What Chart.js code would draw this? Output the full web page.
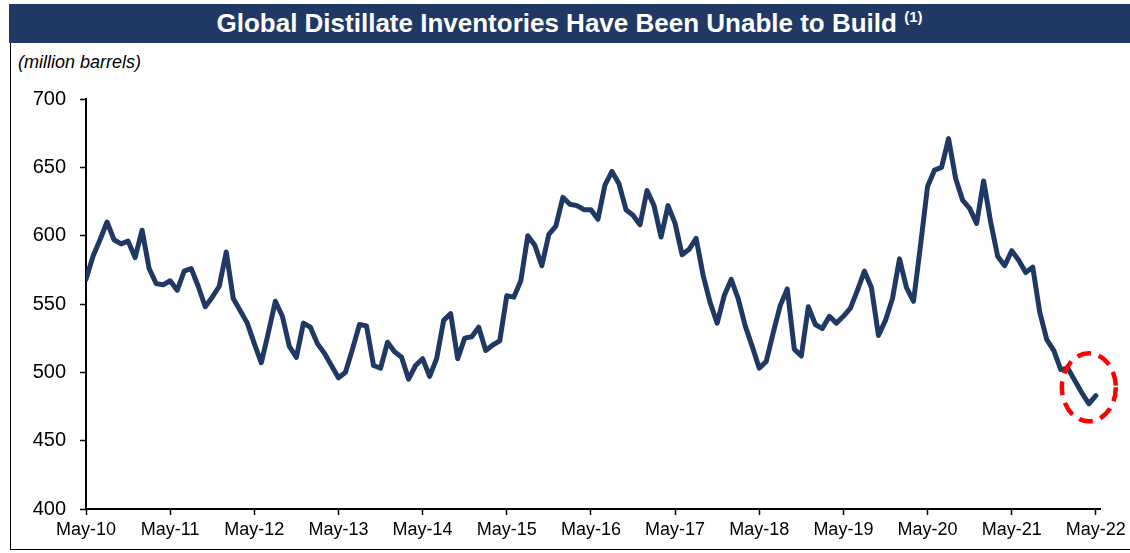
<!DOCTYPE html>
<html lang="en">
<head>
    <meta charset="UTF-8">
    <title>Global Distillate Inventories</title>
    <script src="https://cdn.jsdelivr.net/npm/chart.js"></script>
    <style>
        body { margin: 0; background: #fff; }
        #wrap { position: relative; width: 1130px; height: 553px; font-family: 'Liberation Sans', Arial, sans-serif; }
        #frame { position: absolute; left: 10px; top: 43px; width: 1120px; height: 506px; border-left: 1.5px solid #000; border-bottom: 1.5px solid #000; }
        #titlebar { position: absolute; left: 9px; top: 4px; width: 1121px; height: 39px; background: #1F3864; color: #fff;
                    font-weight: bold; font-size: 26px; text-align: center; line-height: 39px; white-space: nowrap; }
        #titlebar sup { font-size: 15px; vertical-align: baseline; position: relative; top: -10px; }
        #units { position: absolute; left: 18px; top: 52px; font-style: italic; font-size: 18px; color: #000; }
        #box { position: absolute; left: 0; top: 0; width: 1130px; height: 553px; }
    </style>
</head>
<body>
<div id="wrap">
    <div id="frame"></div>
    <div id="titlebar">Global Distillate Inventories Have Been Unable to Build <sup>(1)</sup></div>
    <div id="units">(million barrels)</div>
    <div id="box"><canvas id="chart"></canvas></div>
</div>

<script>
    // monthly values, May-10 .. May-22 (million barrels)
    const inventory = [
        568, 585, 597, 610, 597, 594, 596, 584, 604, 576, 565, 564,
        567, 560, 574, 576, 563, 548, 555, 563, 588, 554, 545, 536,
        521, 507, 529, 552, 541, 519, 511, 536, 533, 521, 514, 505,
        496, 500, 517, 535, 534, 505, 503, 522, 515, 511, 495, 505,
        510, 497, 510, 538, 543, 510, 525, 526, 533, 516, 520, 523,
        556, 555, 567, 600, 593, 578, 601, 607, 628, 623, 622, 619,
        619, 612, 637, 647, 638, 619, 615, 608, 633, 622, 599, 622,
        609, 586, 590, 598, 571, 551, 536, 556, 568, 554, 534, 519,
        503, 508, 529, 549, 561, 517, 512, 548, 535, 532, 541, 536,
        541, 547, 560, 574, 562, 527, 538, 554, 583, 562, 552, 593,
        636, 648, 650, 671, 642, 626, 620, 609, 640, 610, 585, 578,
        589, 582, 573, 577, 544, 524, 516, 502, 503, 494, 485, 477,
        483
    ];
    const yearLabels = ['May-10', 'May-11', 'May-12', 'May-13', 'May-14', 'May-15', 'May-16',
                        'May-17', 'May-18', 'May-19', 'May-20', 'May-21', 'May-22'];
    const yTicks = [400, 450, 500, 550, 600, 650, 700];
    // highlighted spot (month index, value)
    const highlight = { x: 143, y: 489 };

    const navy = '#1F3864';

    const ellipsePlugin = {
        id: 'ellipse',
        afterDatasetsDraw(chart) {
            const ctx = chart.ctx;
            const cx = chart.scales.x.getPixelForValue(highlight.x);
            const cy = chart.scales.y.getPixelForValue(highlight.y);
            ctx.save();
            ctx.strokeStyle = '#FF0000';
            ctx.lineWidth = 4.5;
            ctx.setLineDash([14, 8]);
            ctx.beginPath();
            ctx.ellipse(cx, cy, 27, 34, 0, 0, Math.PI * 2);
            ctx.stroke();
            ctx.restore();
        }
    };

    const points = inventory.map((v, i) => ({ x: i, y: v }));

    new Chart(document.getElementById('chart'), {
        type: 'line',
        data: {
            datasets: [{
                data: points,
                borderColor: navy,
                borderWidth: 5,
                pointRadius: 0,
                tension: 0,
                borderJoinStyle: 'round',
                borderCapStyle: 'round'
            }]
        },
        options: {
            responsive: true,
            maintainAspectRatio: false,
            animation: false,
            layout: { padding: { top: 99, right: 29, left: 0, bottom: 0 } },
            plugins: {
                legend: { display: false },
                tooltip: { enabled: false }
            },
            scales: {
                x: {
                    type: 'linear',
                    min: 0,
                    max: 144.7,
                    afterFit: s => { s.height = 44; },
                    afterBuildTicks: s => { s.ticks = yearLabels.map((l, i) => ({ value: i * 12 })); },
                    grid: { drawOnChartArea: false, tickLength: 6, tickColor: '#000', tickWidth: 1.5 },
                    border: { color: '#000', width: 2 },
                    ticks: {
                        padding: 4,
                        color: '#000',
                        font: { family: "'Liberation Sans', Arial", size: 18 },
                        maxRotation: 0,
                        callback: v => yearLabels[Math.round(v / 12)]
                    }
                },
                y: {
                    min: 400,
                    max: 700,
                    afterFit: s => { s.width = 86; },
                    afterBuildTicks: s => { s.ticks = yTicks.map(v => ({ value: v })); },
                    grid: { drawOnChartArea: false, tickLength: 6, tickColor: '#000', tickWidth: 1.5 },
                    border: { color: '#000', width: 2 },
                    ticks: {
                        padding: 14,
                        color: '#000',
                        font: { family: "'Liberation Sans', Arial", size: 20 }
                    }
                }
            }
        },
        plugins: [ellipsePlugin]
    });
</script>
</body>
</html>
